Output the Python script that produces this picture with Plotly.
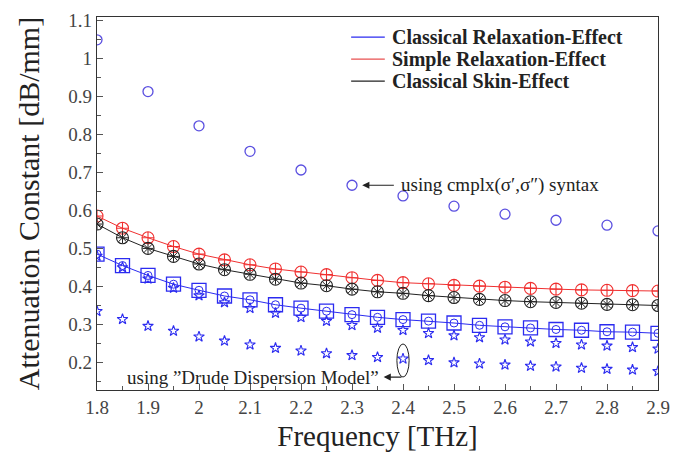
import plotly.graph_objects as go

# Frequency grid [THz]
freq = [1.8, 1.85, 1.9, 1.95, 2.0, 2.05, 2.1, 2.15, 2.2, 2.25, 2.3, 2.35,
        2.4, 2.45, 2.5, 2.55, 2.6, 2.65, 2.7, 2.75, 2.8, 2.85, 2.9]
freq_coarse = [1.8, 1.9, 2.0, 2.1, 2.2, 2.3, 2.4, 2.5, 2.6, 2.7, 2.8, 2.9]

# Attenuation constant [dB/mm]
classical_relax = [0.485, 0.455, 0.429, 0.406, 0.39, 0.375, 0.365, 0.352, 0.343, 0.335, 0.326, 0.319,
                   0.313, 0.309, 0.304, 0.298, 0.294, 0.291, 0.287, 0.285, 0.281, 0.28, 0.277]
simple_relax = [0.585, 0.553, 0.528, 0.505, 0.485, 0.47, 0.457, 0.446, 0.438, 0.431, 0.423, 0.416,
                0.41, 0.407, 0.403, 0.401, 0.398, 0.395, 0.393, 0.391, 0.39, 0.389, 0.388]
classical_skin = [0.564, 0.528, 0.5, 0.479, 0.459, 0.444, 0.432, 0.419, 0.409, 0.402, 0.393, 0.386,
                  0.382, 0.376, 0.371, 0.366, 0.363, 0.36, 0.358, 0.356, 0.353, 0.352, 0.35]
cmplx_syntax = [1.048, 0.912, 0.822, 0.755, 0.706, 0.666, 0.638, 0.611, 0.59, 0.574, 0.561, 0.546]
drude_upper = [0.48, 0.45, 0.42, 0.396, 0.376, 0.358, 0.343, 0.33, 0.319, 0.309, 0.298, 0.291,
               0.285, 0.277, 0.271, 0.266, 0.26, 0.255, 0.251, 0.247, 0.244, 0.24, 0.236]
drude_lower = [0.335, 0.314, 0.296, 0.283, 0.268, 0.257, 0.247, 0.238, 0.231, 0.224, 0.219, 0.214,
               0.21, 0.206, 0.2, 0.197, 0.194, 0.191, 0.189, 0.186, 0.183, 0.181, 0.177]

legend_names = ["Classical Relaxation-Effect", "Simple Relaxation-Effect", "Classical Skin-Effect"]

BLUE = "#2b2bf0"
RED = "#f03030"
BLACK = "#222222"
CIRC = "#5a4fe0"
SERIF = "Liberation Serif, DejaVu Serif, serif"

fig = go.Figure()

# Drude dispersion model points
star_marker = dict(symbol="star-open", size=8, color=BLUE, line=dict(width=1.1, color=BLUE))
fig.add_trace(go.Scatter(x=freq, y=drude_upper, mode="markers", showlegend=False, marker=star_marker))
fig.add_trace(go.Scatter(x=freq, y=drude_lower, mode="markers", showlegend=False, marker=star_marker))

# cmplx(sigma', sigma'') points
fig.add_trace(go.Scatter(x=freq_coarse, y=cmplx_syntax, mode="markers", showlegend=False,
                         marker=dict(symbol="circle-open", size=10, color=CIRC,
                                     line=dict(width=1.3, color=CIRC))))

# Model curves
fig.add_trace(go.Scatter(x=freq, y=simple_relax, mode="lines+markers", showlegend=False,
                         line=dict(color=RED, width=1),
                         marker=dict(symbol="circle-cross-open", size=12, color=RED,
                                     line=dict(width=1.1, color=RED))))
fig.add_trace(go.Scatter(x=freq, y=classical_skin, mode="lines+markers", showlegend=False,
                         line=dict(color=BLACK, width=1),
                         marker=dict(symbol="circle-open", size=12, color=BLACK,
                                     line=dict(width=1.1, color=BLACK))))
fig.add_trace(go.Scatter(x=freq, y=classical_skin, mode="markers", showlegend=False,
                         marker=dict(symbol="asterisk-open", size=9, color=BLACK,
                                     line=dict(width=1, color=BLACK))))
fig.add_trace(go.Scatter(x=freq, y=classical_relax, mode="lines+markers", showlegend=False,
                         line=dict(color=BLUE, width=1),
                         marker=dict(symbol="square-open", size=14, color=BLUE,
                                     line=dict(width=1.3, color=BLUE))))
fig.add_trace(go.Scatter(x=freq, y=classical_relax, mode="markers", showlegend=False,
                         marker=dict(symbol="circle-open", size=8, color=BLUE,
                                     line=dict(width=1, color=BLUE))))

# Compact legend: line sample plus bold label for each curve
legend_colors = [BLUE, "#e85050", BLACK]
for i, (name, col) in enumerate(zip(legend_names, legend_colors)):
    yp = 0.946 - i * 0.059
    fig.add_shape(type="line", xref="paper", yref="paper",
                  x0=0.453, x1=0.513, y0=yp, y1=yp, line=dict(color=col, width=1.2))
    fig.add_annotation(x=0.522, y=yp, xref="paper", yref="paper", xanchor="left",
                       yanchor="middle", text="<b>" + name + "</b>", showarrow=False,
                       font=dict(family=SERIF, size=20, color=BLACK))

# Ellipse around the Drude point at 2.4 THz
fig.add_shape(type="circle", xref="x", yref="y",
              x0=2.388, x1=2.412, y0=0.162, y1=0.249,
              line=dict(color=BLACK, width=1))

fig.add_annotation(x=2.32, y=0.666, ax=2.385, ay=0.666, xref="x", yref="y",
                   axref="x", ayref="y", text="", showarrow=True,
                   arrowhead=2, arrowsize=1.2, arrowwidth=1.2, arrowcolor=BLACK)
fig.add_annotation(x=2.392, y=0.666, xref="x", yref="y", xanchor="left",
                   text="using cmplx(\u03c3\u2032,\u03c3\u2033) syntax", showarrow=False,
                   font=dict(family=SERIF, size=19, color=BLACK))

fig.add_annotation(x=2.362, y=0.162, ax=2.4, ay=0.162, xref="x", yref="y",
                   axref="x", ayref="y", text="", showarrow=True,
                   arrowhead=2, arrowsize=1.2, arrowwidth=1.2, arrowcolor=BLACK)
fig.add_annotation(x=2.357, y=0.162, xref="x", yref="y", xanchor="right",
                   text="using \u201dDrude Dispersion Model\u201d", showarrow=False,
                   font=dict(family=SERIF, size=19, color=BLACK))

axis_common = dict(showline=True, linecolor="#333333", linewidth=1.3, mirror=True,
                   showgrid=False, zeroline=False, ticks="inside", ticklen=6,
                   tickcolor="#555555", tickwidth=1,
                   tickfont=dict(family=SERIF, size=19, color="#444444"))

fig.update_xaxes(range=[1.8, 2.9], dtick=0.1, tick0=1.8,
                 minor=dict(dtick=0.05, ticks="inside", ticklen=4, tickcolor="#555555"),
                 title=dict(text="Frequency [THz]", font=dict(family=SERIF, size=29, color=BLACK),
                            standoff=8),
                 **axis_common)
fig.update_yaxes(range=[0.128, 1.108], dtick=0.1, tick0=0.2,
                 minor=dict(dtick=0.05, ticks="inside", ticklen=4, tickcolor="#555555"),
                 title=dict(text="Attenuation Constant [dB/mm]",
                            font=dict(family=SERIF, size=30, color=BLACK), standoff=19),
                 **axis_common)

fig.update_layout(
    width=691, height=457,
    margin=dict(l=97, r=33, t=10, b=67),
    paper_bgcolor="white", plot_bgcolor="white",
    showlegend=False,
)

fig.write_html("out.html")
